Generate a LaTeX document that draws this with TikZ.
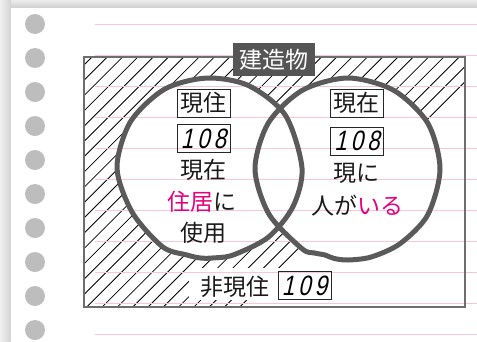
\documentclass[tikz,border=0pt]{standalone}
\usepackage{fontspec}
\setmainfont{Noto Sans CJK JP}
\newfontfamily\numfont{Liberation Sans}[FakeSlant=0.22, FakeStretch=0.8, LetterSpace=14]
\definecolor{pinkline}{HTML}{F8C6D9}
\definecolor{mag}{HTML}{E5007F}
\definecolor{circ}{HTML}{5A5A5A}
\definecolor{boxgray}{HTML}{555555}
\definecolor{dotgray}{HTML}{BDBDBD}
\definecolor{framegray}{HTML}{6E6E6E}
\begin{document}
\begin{tikzpicture}[x=1pt,y=-1pt,
  txt/.style={font=\fontsize{23}{23}\selectfont, inner sep=0pt, text=black!90},
  wordbox/.style={txt, draw=black!85, line width=0.8pt, minimum width=53pt, minimum height=28pt},
  numbox/.style={draw=black!85, line width=0.8pt, minimum width=53pt, minimum height=28pt, inner sep=0pt,
                 font=\numfont\fontsize{28}{28}\selectfont},
  titlebox/.style={fill=boxgray, text=white, font=\fontsize{23}{23}\selectfont, minimum width=82pt, minimum height=33pt, inner sep=0pt},
  ring/.style={draw=circ, line width=5pt, line join=round},
  pinkrule/.style={draw=pinkline, line width=1pt},
  hatchline/.style={draw=black, line width=0.8pt}]
\useasboundingbox (0,0) rectangle (477,341);
% background and paper
\fill[gray!22] (0,0) rectangle (477,341);
\shade[top color=gray!15, bottom color=gray!38] (0,0) rectangle (477,8);
\shade[left color=gray!12, right color=gray!35] (0,0) rectangle (11,341);
\fill[white] (11,8) rectangle (477,341);
% punch dots
\foreach \yy in {24,58,92,126,160,194,228,262,296,330}
  \fill[dotgray] (35,\yy) circle (10);
% hatching
\begin{scope}
  \clip (84,57) rectangle (465,307);
  \foreach \k in {-18,...,26}
    \draw[hatchline] ({92+15.3*\k-250},307) -- ++(250,-250);
\end{scope}
% white interiors
\begin{scope}[shift={(210,168)}]
  \fill[white] plot[smooth cycle] coordinates {(0:92) (25:91.5) (50:90.5) (75:90) (88:90) (96:90.5) (105:90) (121:92) (150:89.5) (180:93) (210:92) (240:91) (268:90) (295:91) (325:92)};
\end{scope}
\begin{scope}[shift={(348,169)}]
  \fill[white] plot[smooth cycle] coordinates {(0:92) (30:92) (55:91) (75:91) (90:91) (99:90.5) (105:89) (112:90.5) (120:92) (150:91) (180:93) (210:92) (240:91) (270:91) (300:91) (330:92)};
\end{scope}
\fill[white] (189,268) rectangle (333,300);
% ruled lines
\foreach \yy in {24,55,86,117,148,179,210,241,272,303,334}
  \draw[pinkrule] (95,\yy) -- (477,\yy);
% frame
\draw[framegray, line width=1.5pt] (84,57) rectangle (465,307);
% rings
\begin{scope}[shift={(210,168)}]
  \draw[ring] plot[smooth cycle] coordinates {(0:92) (25:91.5) (50:90.5) (75:90) (88:90) (96:90.5) (105:90) (121:92) (150:89.5) (180:93) (210:92) (240:91) (268:90) (295:91) (325:92)};
\end{scope}
\begin{scope}[shift={(348,169)}]
  \draw[ring] plot[smooth cycle] coordinates {(0:92) (30:92) (55:91) (75:91) (90:91) (99:90.5) (105:89) (112:90.5) (120:92) (150:91) (180:93) (210:92) (240:91) (270:91) (300:91) (330:92)};
\end{scope}
% title
\node[titlebox] (title) at (274,59.5) {建造物};
% left texts
\node[wordbox] (lA) at (203.5,103) {現住};
\node[numbox] (lB) at (203.5,138.5) {108};
\node[txt] (lC) at (203,170) {現在};
\node[txt] (lD) at (202,202) {\textcolor{mag}{住居}に};
\node[txt] (lE) at (203,233) {使用};
% right texts
\node[wordbox] (rA) at (356.5,103) {現在};
\node[numbox] (rB) at (357,141) {108};
\node[txt] (rC) at (356,173.5) {現に};
\node[txt] (rD) at (357.5,206) {人が\textcolor{mag}{いる}};
% bottom label
\node[txt] (nA) at (235,287) {非現住};
\node[numbox] (nB) at (304.5,285.5) {109};
\end{tikzpicture}
\end{document}
